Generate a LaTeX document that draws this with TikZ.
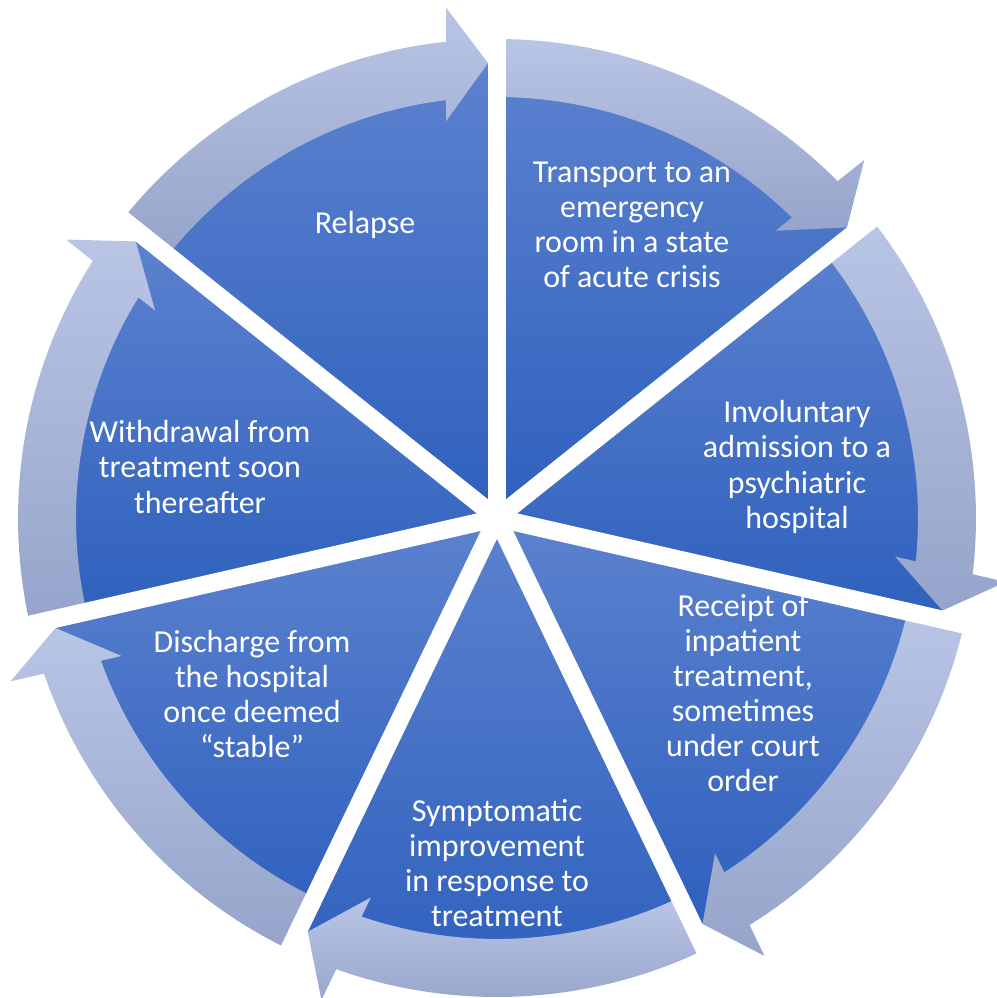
\documentclass[tikz,border=0pt]{standalone}
\usepackage{fontspec}
\setmainfont{Carlito}
\usepackage{xcolor}
\usepackage{tikz}

\definecolor{sectop}{HTML}{5C82CF}
\definecolor{secbottom}{HTML}{2E60BD}
\definecolor{arrtop}{HTML}{B9C5E5}
\definecolor{arrbottom}{HTML}{96A4CB}

\begin{document}
\begin{tikzpicture}[x=0.2mm, y=0.2mm,
    sector/.style={top color=sectop, bottom color=secbottom},
    cyclearrow/.style={top color=arrtop, bottom color=arrbottom},
    gapline/.style={white, line width=3.6mm},
    steptext/.style={text=white, align=center, font=\fontsize{18.2}{20}\selectfont}]
    \useasboundingbox (-497,-480) rectangle (500,518);

    \foreach \i in {0,...,6} {
        \pgfmathsetmacro{\s}{90-\i*360/7}
        \pgfmathsetmacro{\e}{\s-360/7}
        \shade[sector] (0,0) -- (\s:455) arc[start angle=\s, end angle=\e, radius=455] -- cycle;
    }
    \foreach \i in {0,...,6} {
        \pgfmathsetmacro{\s}{90-\i*360/7}
        \pgfmathsetmacro{\e}{\s-360/7}
        \shade[cyclearrow] (\s:421) arc[start angle=\s, end angle=\e+6.96, radius=421]
            -- (\e+7.32:400) -- (\e+1.13:455) -- (\e+5.70:513)
            -- (\e+6.11:479) arc[start angle=\e+6.11, end angle=\s, radius=479] -- cycle;
    }
    \foreach \i in {0,...,6}
        \draw[gapline] (0,0) -- ({90-\i*360/7}:540);

    \node[steptext] (relapse) at (-132,293) {Relapse};
    \node[steptext] (transport) at (135,293) {Transport to an\\emergency\\room in a state\\of acute crisis};
    \node[steptext] (admission) at (300,51) {Involuntary\\admission to a\\psychiatric\\hospital};
    \node[steptext] (inpatient) at (246,-175) {Receipt of\\inpatient\\treatment,\\sometimes\\under court\\order};
    \node[steptext] (improvement) at (0,-345) {Symptomatic\\improvement\\in response to\\treatment};
    \node[steptext] (discharge) at (-245,-176) {Discharge from\\the hospital\\once deemed\\“stable”};
    \node[steptext] (withdrawal) at (-297,51) {Withdrawal from\\treatment soon\\thereafter};
\end{tikzpicture}
\end{document}
